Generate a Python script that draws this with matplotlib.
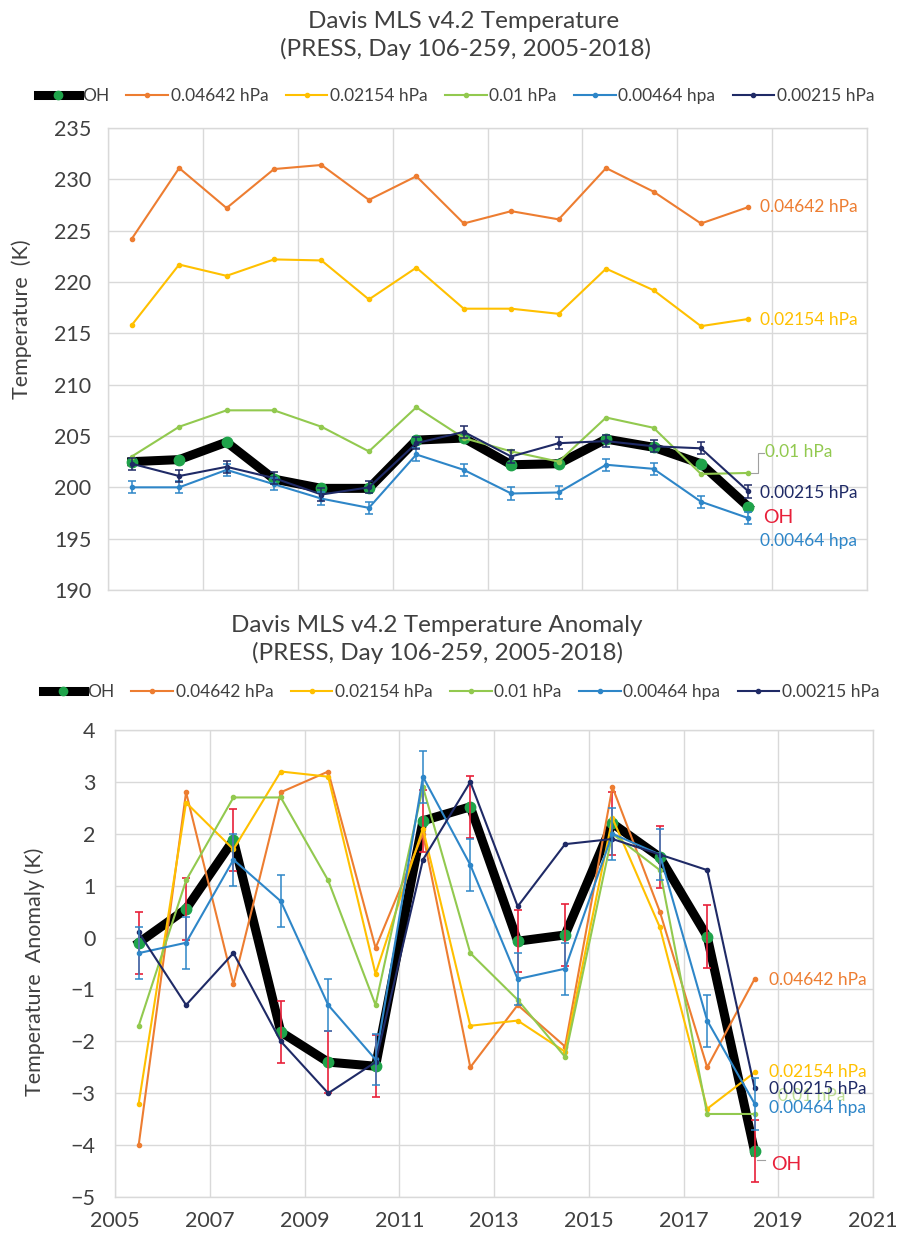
import matplotlib
matplotlib.use("Agg")
import matplotlib.pyplot as plt
from matplotlib.lines import Line2D

plt.rcParams['font.family'] = ['Lato', 'DejaVu Sans']

# ---------------- data ----------------
years = [2005.5, 2006.5, 2007.5, 2008.5, 2009.5, 2010.5, 2011.5,
         2012.5, 2013.5, 2014.5, 2015.5, 2016.5, 2017.5, 2018.5]

series_names = ["OH", "0.04642 hPa", "0.02154 hPa", "0.01 hPa", "0.00464 hpa", "0.00215 hPa"]

# Top panel: temperature (K)
oh_T = [202.5, 202.7, 204.4, 200.8, 199.9, 199.9, 204.6, 204.8, 202.2, 202.3, 204.7, 203.9, 202.3, 198.1]
t04642 = [224.2, 231.1, 227.2, 231.0, 231.4, 228.0, 230.3, 225.7, 226.9, 226.1, 231.1, 228.8, 225.7, 227.3]
t02154 = [215.8, 221.7, 220.6, 222.2, 222.1, 218.3, 221.4, 217.4, 217.4, 216.9, 221.3, 219.2, 215.7, 216.4]
t01 = [203.0, 205.9, 207.5, 207.5, 205.9, 203.5, 207.8, 204.8, 203.5, 202.5, 206.8, 205.8, 201.3, 201.4]
t00464 = [200.0, 200.0, 201.7, 200.3, 198.9, 198.0, 203.2, 201.7, 199.4, 199.5, 202.2, 201.8, 198.6, 197.0]
t00215 = [202.3, 201.1, 202.0, 200.9, 199.3, 200.0, 204.3, 205.4, 203.0, 204.3, 204.5, 204.0, 203.8, 199.6]
err_T = 0.6

# Bottom panel: temperature anomaly (K)
oh_A = [-0.1, 0.55, 1.88, -1.82, -2.4, -2.48, 2.25, 2.52, -0.07, 0.05, 2.2, 1.55, 0.02, -4.12]
a04642 = [-4.0, 2.8, -0.9, 2.8, 3.2, -0.2, 2.0, -2.5, -1.3, -2.1, 2.9, 0.5, -2.5, -0.8]
a02154 = [-3.2, 2.6, 1.7, 3.2, 3.1, -0.7, 2.1, -1.7, -1.6, -2.2, 2.3, 0.2, -3.3, -2.6]
a01 = [-1.7, 1.1, 2.7, 2.7, 1.1, -1.3, 2.9, -0.3, -1.2, -2.3, 2.0, 1.3, -3.4, -3.4]
a00464 = [-0.3, -0.1, 1.5, 0.7, -1.3, -2.35, 3.1, 1.4, -0.8, -0.6, 2.0, 1.6, -1.6, -3.2]
a00215 = [0.1, -1.3, -0.3, -2.0, -3.0, -2.4, 1.5, 3.0, 0.6, 1.8, 1.9, 1.6, 1.3, -2.9]
err_A_oh = 0.6
err_A_blue = 0.5

xticks = [2005, 2007, 2009, 2011, 2013, 2015, 2017, 2019, 2021]
yticks_T = [190, 195, 200, 205, 210, 215, 220, 225, 230, 235]
yticks_A = [-5, -4, -3, -2, -1, 0, 1, 2, 3, 4]

# ---------------- style ----------------
C_OR = '#ED7D31'
C_YE = '#FFC000'
C_GR = '#92C94F'
C_BL = '#2E86C8'
C_NV = '#1F2A66'
C_OHM = '#1FA34A'
C_RED = '#E8203A'
GRID = '#D9D9D9'
TXT = '#404040'

W, H = 897, 1238
fig = plt.figure(figsize=(W / 100, H / 100), dpi=100)


def fx(x):
    return x / W


def fy(y):
    return 1 - y / H


def style_axes(ax):
    ax.grid(True, color=GRID, lw=1.0)
    ax.set_axisbelow(True)
    for s in ax.spines.values():
        s.set_color(GRID)
        s.set_linewidth(1.0)
    ax.tick_params(length=0, labelsize=15.5, colors=TXT)


def draw_series(ax, oh, s1, s2, s3, s4, s5, oh_err=None, bl_err=None, nv_err=None, oh_err_color=C_RED):
    ax.plot(years, oh, color='black', lw=6.5, marker='o', ms=7.5,
            mfc=C_OHM, mec=C_OHM, zorder=3, solid_joinstyle='round')
    if oh_err is not None:
        ax.errorbar(years, oh, yerr=oh_err, fmt='none', ecolor=oh_err_color,
                    elinewidth=1.2, capsize=3, capthick=1.2, zorder=3.5)
    for vals, c in [(s1, C_OR), (s2, C_YE), (s3, C_GR), (s4, C_BL), (s5, C_NV)]:
        ax.plot(years, vals, color=c, lw=1.5, marker='o', ms=3, zorder=4)
    if bl_err is not None:
        ax.errorbar(years, s4, yerr=bl_err, fmt='none', ecolor=C_BL,
                    elinewidth=1.1, capsize=3, capthick=1.1, zorder=4.2)
    if nv_err is not None:
        ax.errorbar(years, s5, yerr=nv_err, fmt='none', ecolor=C_NV,
                    elinewidth=1.1, capsize=3, capthick=1.1, zorder=4.3)


def legend_handles():
    hs = [Line2D([], [], color='black', lw=6.5, marker='o', ms=6, mfc=C_OHM, mec=C_OHM)]
    for c in [C_OR, C_YE, C_GR, C_BL, C_NV]:
        hs.append(Line2D([], [], color=c, lw=1.5, marker='o', ms=3))
    return hs


LEG_KW = dict(loc='center', ncol=6, frameon=False, fontsize=12.5, handlelength=2.4,
              handletextpad=0.15, columnspacing=1.0, labelcolor=TXT)

# ---------------- top panel ----------------
ax1 = fig.add_axes([fx(108), fy(590), fx(867 - 108), (590 - 128) / H])
style_axes(ax1)
draw_series(ax1, oh_T, t04642, t02154, t01, t00464, t00215,
            oh_err=None, bl_err=err_T, nv_err=err_T)
ax1.set_xlim(2005, 2021)
ax1.set_ylim(190, 235)
ax1.set_xticks(xticks)
ax1.set_xticklabels([])
ax1.set_yticks(yticks_T)
ax1.tick_params(axis='y', pad=12)

lab_kw = dict(fontsize=12.5, va='center', ha='left', zorder=6)
ax1.text(2018.75, 227.3, "0.04642 hPa", color=C_OR, **lab_kw)
ax1.text(2018.75, 216.3, "0.02154 hPa", color=C_YE, **lab_kw)
ax1.text(2018.85, 203.4, "0.01 hPa", color=C_GR, **lab_kw)
ax1.plot([2018.55, 2018.7, 2018.7, 2018.82], [201.4, 201.4, 203.3, 203.3],
         color='#A0A0A0', lw=0.8, zorder=5)
ax1.text(2018.75, 199.4, "0.00215 hPa", color=C_NV, **lab_kw)
ax1.text(2018.82, 197.1, "OH", color=C_RED, fontsize=14, va='center', ha='left', zorder=6)
ax1.text(2018.75, 194.8, "0.00464 hpa", color=C_BL, **lab_kw)

fig.text(fx(464), fy(21), "Davis MLS v4.2 Temperature", ha='center', va='center',
         fontsize=17.5, color=TXT)
fig.text(fx(466), fy(49), "(PRESS, Day 106-259, 2005-2018)", ha='center', va='center',
         fontsize=17.5, color=TXT)
fig.text(fx(22), fy(319), "Temperature  (K)", rotation=90, ha='center', va='center',
         fontsize=15.5, color=TXT)
fig.legend(legend_handles(), series_names, bbox_to_anchor=(fx(456), fy(96)), **LEG_KW)

# ---------------- bottom panel ----------------
ax2 = fig.add_axes([fx(115), fy(1197), fx(873 - 115), (1197 - 730) / H])
style_axes(ax2)
draw_series(ax2, oh_A, a04642, a02154, a01, a00464, a00215,
            oh_err=err_A_oh, bl_err=err_A_blue)
ax2.set_xlim(2005, 2021)
ax2.set_ylim(-5, 4)
ax2.set_xticks(xticks)
ax2.set_yticks(yticks_A)
ax2.tick_params(axis='y', pad=14)
ax2.tick_params(axis='x', pad=10)

ax2.text(2018.8, -0.82, "0.04642 hPa", color=C_OR, **lab_kw)
ax2.text(2019.0, -3.06, "0.01 hPa", color=C_GR, alpha=0.6, fontsize=12.5, va='center',
         ha='left', zorder=5.5)
ax2.text(2018.8, -2.6, "0.02154 hPa", color=C_YE, **lab_kw)
ax2.text(2018.8, -2.92, "0.00215 hPa", color=C_NV, **lab_kw)
ax2.text(2018.8, -3.28, "0.00464 hpa", color=C_BL, **lab_kw)
ax2.plot([2018.55, 2018.72], [-4.28, -4.28], color='#A0A0A0', lw=0.8, zorder=5)
ax2.text(2018.85, -4.38, "OH", color=C_RED, fontsize=14, va='center', ha='left', zorder=6)

fig.text(fx(437), fy(625), "Davis MLS v4.2 Temperature Anomaly", ha='center', va='center',
         fontsize=17.5, color=TXT)
fig.text(fx(437), fy(653), "(PRESS, Day 106-259, 2005-2018)", ha='center', va='center',
         fontsize=17.5, color=TXT)
fig.text(fx(35), fy(972), "Temperature  Anomaly (K)", rotation=90, ha='center', va='center',
         fontsize=15.5, color=TXT)
fig.legend(legend_handles(), series_names, bbox_to_anchor=(fx(461), fy(692)), **LEG_KW)

fig.savefig("out.png", dpi=100)
